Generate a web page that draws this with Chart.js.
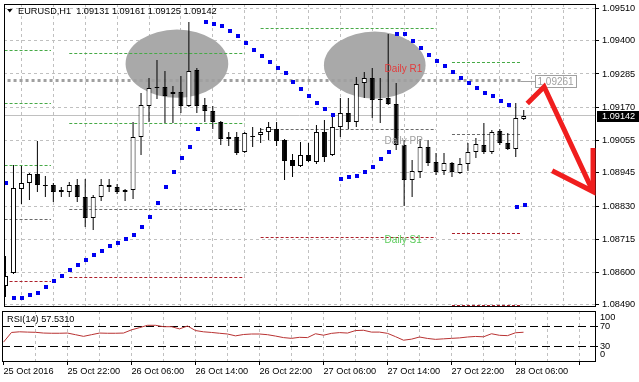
<!DOCTYPE html>
<html><head><meta charset="utf-8">
<script src="https://cdn.jsdelivr.net/npm/chart.js@4.4.0/dist/chart.umd.min.js"></script>
<style>
html,body{margin:0;padding:0;background:#fff;}
#wrap{position:relative;width:639px;height:382px;overflow:hidden;background:#fff;}
#main{position:absolute;left:0;top:0;}
#rsi{position:absolute;left:0;top:309px;}
</style></head><body>
<div id="wrap"><canvas id="main" width="639" height="310"></canvas><canvas id="rsi" width="639" height="73"></canvas></div>
<script>
// ---------------- DATA ----------------
const symbol = 'EURUSD,H1';
const timeLabels = ['25 Oct 2016','25 Oct 22:00','26 Oct 06:00','26 Oct 14:00','26 Oct 22:00','27 Oct 06:00','27 Oct 14:00','27 Oct 22:00','28 Oct 06:00'];
const labelStep = 8; // one time label every 8 hourly bars
const open = [1.08554,1.08598,1.08890,1.08911,1.08941,1.08901,1.08901,1.08877,1.08880,1.08901,
1.08863,1.08788,1.08863,1.08901,1.08897,1.08877,1.08884,1.09067,1.09176,1.09241,
1.09241,1.09217,1.09224,1.09176,1.09298,1.09179,1.09156,1.09118,1.09060,1.09067,
1.09016,1.09071,1.09074,1.09084,1.09094,1.09057,1.08989,1.08969,1.09006,1.08982,
1.09084,1.09006,1.09101,1.09149,1.09118,1.09254,1.09271,1.09200,1.09203,1.09183,
1.09040,1.08921,1.08948,1.09033,1.08982,1.08952,1.08979,1.08945,1.08975,1.09016,
1.09040,1.09016,1.09088,1.09047,1.09026,1.09131];
const high = [1.08659,1.08972,1.08969,1.08945,1.09054,1.08935,1.08911,1.08897,1.08914,1.08924,
1.08924,1.08867,1.08924,1.08924,1.08907,1.08890,1.09118,1.09220,1.09271,1.09332,
1.09295,1.09244,1.09278,1.09465,1.09305,1.09203,1.09176,1.09122,1.09084,1.09084,
1.09084,1.09101,1.09098,1.09118,1.09118,1.09060,1.09009,1.09050,1.09047,1.09111,
1.09125,1.09145,1.09203,1.09203,1.09275,1.09292,1.09305,1.09271,1.09424,1.09254,
1.09057,1.08989,1.09060,1.09057,1.09013,1.09013,1.08982,1.08996,1.09047,1.09064,
1.09115,1.09091,1.09094,1.09081,1.09186,1.09161];
const low = [1.08516,1.08595,1.08836,1.08850,1.08880,1.08860,1.08843,1.08863,1.08863,1.08843,
1.08758,1.08748,1.08846,1.08880,1.08873,1.08846,1.08853,1.09006,1.09118,1.09200,
1.09115,1.09115,1.09149,1.09173,1.09149,1.09118,1.09094,1.09040,1.09037,1.09006,
1.09013,1.09033,1.09047,1.09057,1.09037,1.08921,1.08931,1.08965,1.08982,1.08975,
1.08982,1.09003,1.09067,1.09094,1.09101,1.09203,1.09135,1.09115,1.09179,1.09023,
1.08829,1.08863,1.08928,1.08969,1.08938,1.08938,1.08931,1.08941,1.08952,1.08996,
1.09009,1.09009,1.09040,1.09023,1.08999,1.09125];
const close = [1.08591,1.08894,1.08911,1.08941,1.08901,1.08898,1.08877,1.08884,1.08904,1.08863,
1.08788,1.08863,1.08901,1.08897,1.08877,1.08884,1.09067,1.09179,1.09237,1.09238,
1.09210,1.09224,1.09176,1.09295,1.09176,1.09156,1.09118,1.09060,1.09067,1.09013,
1.09081,1.09068,1.09084,1.09101,1.09054,1.08986,1.08969,1.09006,1.08986,1.09084,
1.08999,1.09101,1.09149,1.09118,1.09251,1.09271,1.09196,1.09197,1.09183,1.09040,
1.08921,1.08952,1.09033,1.08979,1.08948,1.08979,1.08948,1.08975,1.09016,1.09043,
1.09016,1.09084,1.09047,1.09026,1.09135,1.09142];
const sar = [1.08911,1.08515,1.08515,1.08524,1.08531,1.08551,1.08572,1.08591,1.08609,1.08626,
1.08643,1.08660,1.08677,1.08691,1.08704,1.08718,1.08732,1.08759,1.08793,1.08840,
1.08897,1.08949,1.08997,1.09034,1.09095,1.09463,1.09456,1.09449,1.09432,1.09415,
1.09391,1.09367,1.09347,1.09327,1.09306,1.09289,1.09259,1.09233,1.09208,1.09185,
1.09165,1.09143,1.08923,1.08929,1.08932,1.08947,1.08966,1.08993,1.09017,1.09423,
1.09423,1.09399,1.09374,1.09352,1.09331,1.09311,1.09293,1.09272,1.09255,1.09238,
1.09221,1.09208,1.09193,1.09178,1.08828,1.08834];
const rsi = [37.7,57.1,58.4,57.8,57.4,55.9,55.5,55.5,55.9,52.6,
49.3,52.6,55.9,55.5,55.5,55.9,62.3,66.7,71.4,71.4,
68.6,68.6,64.2,70.0,60.9,58.4,57.1,55.5,54.0,50.3,
53.0,54.0,54.0,52.6,49.9,46.8,45.3,47.4,46.8,54.5,
51.6,55.3,56.8,55.9,60.9,61.5,57.8,57.8,55.3,48.7,
41.6,43.7,48.0,45.1,43.3,44.3,45.3,46.2,48.0,49.1,
48.4,54.5,51.4,50.7,56.5,57.531];
const rsiPeriod = 14;
const priceTicks = [1.08490,1.08600,1.08715,1.08830,1.08945,1.09055,1.09170,1.09285,1.09400,1.09510];
const rsiTicks = [0,30,70,100];
const rsiLevels = [70,30];
// daily pivot segments (bar index spans) and levels
const dayFrom = [-2, 8, 32, 56];
const dayTo = [5.7, 30, 54, 64.6];
const pivotHigh = [[1.09365,1.09182,1.08969],[1.09354,1.09116],[1.09440],[1.09325]];
const pivotMid = [1.08783,1.08818,1.09093,1.09076];
const pivotLow = [[1.08570],[1.08583],[1.08722],[1.08734,1.08488]];
const pivotLabels = ['Daily R1','Daily PP','Daily S1'];
const pivotLabelAt = 47.55;
// horizontal line object
const hlinePrice = 1.09261;
const hlineFrom = -2, hlineTo = 64.6, hlineLabelAt = 66.4;
// ellipse objects (bar index span, price span)
const ellipses = [
  {from:15.06, to:27.94, top:1.09438, bottom:1.09203},
  {from:39.94, to:52.69, top:1.09431, bottom:1.09200}
];
// red arrow (bar index, price)
const arrowPath = [[65.44,1.09183],[67.56,1.09241],[73.69,1.08880]];
const arrowHead = [[68.56,1.08952],[73.69,1.08880],[73.69,1.09030]];

// ---------------- RENDER ----------------
const FONT = '"Liberation Sans", Arial, sans-serif';
Chart.defaults.font.family = FONT;
Chart.defaults.font.size = 9.2;
Chart.defaults.color = '#000';
Chart.defaults.animation = false;

const last = close.length - 1;
const bidPrice = close[last];
const xMin = -0.1875, xMax = 73.9375;
const gridIdx = [];
for (let v = 0; v <= 72; v += 4) gridIdx.push(v);
const GRID = '#c0c0c0';
const SAR_DX = 0.12;

function xScale(withLabels) {
  return {
    type: 'linear', min: xMin, max: xMax, offset: false,
    afterBuildTicks: s => { s.ticks = gridIdx.map(v => ({value: v})); },
    ticks: {
      display: withLabels, autoSkip: false, maxRotation: 0, minRotation: 0,
      align: 'start', padding: 1, font: {size: 9.2},
      callback: v => (v % labelStep === 0 && timeLabels[v / labelStep]) ? timeLabels[v / labelStep] : ''
    },
    grid: {
      color: c => (c.tick && c.tick.value === 0) ? 'rgba(0,0,0,0)' : GRID,
      lineWidth: 1,
      drawTicks: withLabels, tickLength: 4, tickBorderDash: [],
      tickColor: c => (c.tick && c.tick.value % labelStep === 0) ? '#000' : 'rgba(0,0,0,0)'
    },
    border: {display: false, dash: [3, 3]},
    afterFit: s => { s.height = withLabels ? 21 : 0; s.paddingLeft = 0; s.paddingRight = 0; }
  };
}

function hLine(x1, x2, v, color, dash, width, order) {
  return {type: 'line', snap: true, data: [{x: x1, y: v}, {x: x2, y: v}], borderColor: color, borderWidth: width,
    borderDash: dash, pointRadius: 0, fill: false, tension: 0, order: order};
}

// crisp rendering: round element geometry computed by the scales to device pixels
const crisp = {
  id: 'crisp',
  afterDatasetsUpdate(chart) {
    chart.data.datasets.forEach((ds, di) => {
      const meta = chart.getDatasetMeta(di);
      if (meta.type === 'bar') {
        meta.data.forEach(el => {
          el.y = Math.round(el.y); el.base = Math.round(el.base);
          if (el.y === el.base) el.base = el.y + 1;
        });
      } else if (ds.snap) {
        meta.data.forEach(el => { el.y = Math.round(el.y - 0.5) + 0.5; });
      } else if (ds.snapPoints) {
        meta.data.forEach(el => { el.y = Math.round(el.y); el.x = Math.round(el.x); });
      }
    });
  }
};

const datasets = [];
datasets.push({
  type: 'line', label: 'SAR', showLine: false, order: 1, snapPoints: true,
  data: sar.map((v, i) => ({x: i + SAR_DX, y: v})),
  pointStyle: 'rect', pointRadius: 2.8285, pointBackgroundColor: '#0000f0', pointBorderWidth: 0
});
datasets.push({
  type: 'bar', label: 'body', order: 2, grouped: false, barThickness: 5, inflateAmount: 0,
  data: open.map((o, i) => ({x: i, y: [o, close[i]]})),
  backgroundColor: c => close[c.dataIndex] >= open[c.dataIndex] ? '#ffffff' : '#000000',
  borderColor: '#000', borderWidth: 1, borderSkipped: false
});
datasets.push({
  type: 'bar', label: 'wick', order: 3, grouped: false, barThickness: 1, inflateAmount: 0,
  data: low.map((l, i) => ({x: i, y: [l, high[i]]})),
  backgroundColor: '#000', borderWidth: 0
});
datasets.push(hLine(xMin, xMax, bidPrice, '#c0c0c0', [], 1, 4));
dayFrom.forEach((f, d) => {
  pivotHigh[d].forEach(v => datasets.push(hLine(f, dayTo[d], v, '#46aa46', [3, 2], 1, 6)));
  datasets.push(hLine(f, dayTo[d], pivotMid[d], '#6a6a6a', [3, 2], 1, 6));
  pivotLow[d].forEach(v => datasets.push(hLine(f, dayTo[d], v, '#ad1f2a', [3, 2], 1, 6)));
});
datasets.push(hLine(hlineFrom, hlineTo, hlinePrice, '#a0a0a0', [3, 3], 3, 8));

const mainDeco = {
  id: 'mainDeco',
  beforeDatasetsDraw(chart) {
    const {ctx, chartArea: a, scales: {x, y}} = chart;
    ctx.save();
    ctx.beginPath(); ctx.rect(a.left, a.top, a.right - a.left, a.bottom - a.top); ctx.clip();
    ctx.fillStyle = '#a9a9a9';
    for (const e of ellipses) {
      const x1 = x.getPixelForValue(e.from), x2 = x.getPixelForValue(e.to);
      const y1 = y.getPixelForValue(e.top), y2 = y.getPixelForValue(e.bottom);
      ctx.beginPath();
      ctx.ellipse((x1 + x2) / 2, (y1 + y2) / 2, (x2 - x1) / 2, (y2 - y1) / 2, 0, 0, 2 * Math.PI);
      ctx.fill();
    }
    ctx.restore();
  },
  afterDatasetsDraw(chart) {
    const {ctx, scales: {x, y}} = chart;
    ctx.save();
    ctx.font = '10px ' + FONT;
    ctx.textBaseline = 'middle'; ctx.textAlign = 'left';
    const lx = x.getPixelForValue(pivotLabelAt);
    const items = [[pivotLabels[0], pivotHigh[3][0], '#e23c3c'], [pivotLabels[1], pivotMid[3], '#a0a0a0'], [pivotLabels[2], pivotLow[3][0], '#5ccc5c']];
    for (const [t, v, c] of items) { ctx.fillStyle = c; ctx.fillText(t, lx, y.getPixelForValue(v) + 6.5); }
    ctx.restore();
  },
  afterDraw(chart) {
    const {ctx, chartArea: a, scales: {x, y}} = chart;
    ctx.save();
    // frame
    ctx.strokeStyle = '#000'; ctx.lineWidth = 1;
    ctx.strokeRect(a.left + 0.5, a.top + 0.5, a.right - a.left, a.bottom - a.top);
    // hline label
    const hy = Math.round(y.getPixelForValue(hlinePrice));
    const hx0 = x.getPixelForValue(hlineTo), hx1 = Math.round(x.getPixelForValue(hlineLabelAt));
    ctx.strokeStyle = '#a0a0a0';
    ctx.beginPath(); ctx.moveTo(hx0, hy + 0.5); ctx.lineTo(hx1, hy + 0.5); ctx.stroke();
    ctx.font = '10px ' + FONT;
    const hw = Math.ceil(ctx.measureText(hlinePrice.toFixed(5)).width) + 4;
    ctx.strokeRect(hx1 + 0.5, hy - 6 + 0.5, hw, 12);
    ctx.fillStyle = '#a0a0a0'; ctx.textBaseline = 'middle'; ctx.textAlign = 'left';
    ctx.fillText(hlinePrice.toFixed(5), hx1 + 2.5, hy + 1);
    // bid box on axis
    const by = Math.round(y.getPixelForValue(bidPrice));
    ctx.fillStyle = '#000';
    ctx.fillRect(a.right + 2, by - 5, 44, 11);
    ctx.fillStyle = '#fff'; ctx.font = '9.2px ' + FONT;
    ctx.fillText(bidPrice.toFixed(5), a.right + 7, by + 0.5);
    // arrow
    ctx.strokeStyle = '#f01e1e'; ctx.lineWidth = 5; ctx.lineJoin = 'miter'; ctx.lineCap = 'butt';
    const P = p => [x.getPixelForValue(p[0]), y.getPixelForValue(p[1])];
    for (const path of [arrowPath, arrowHead]) {
      ctx.beginPath();
      path.forEach((p, i) => { const [px, py] = P(p); i ? ctx.lineTo(px, py) : ctx.moveTo(px, py); });
      ctx.stroke();
    }
    // title
    ctx.fillStyle = '#000';
    ctx.beginPath(); ctx.moveTo(7, 9); ctx.lineTo(12.5, 9); ctx.lineTo(9.75, 12.5); ctx.closePath(); ctx.fill();
    ctx.font = '9.2px ' + FONT; ctx.textBaseline = 'alphabetic';
    ctx.fillText(symbol + '  ' + [open[last], high[last], low[last], close[last]].map(v => v.toFixed(5)).join(' '), 18, 14);
    ctx.restore();
  }
};

new Chart(document.getElementById('main'), {
  type: 'bar',
  data: {datasets},
  options: {
    responsive: false, animation: false, events: [],
    layout: {padding: {left: 2, top: 2, right: 0, bottom: 2}},
    plugins: {legend: {display: false}, tooltip: {enabled: false}},
    scales: {
      x: xScale(false),
      y: {
        type: 'linear', position: 'right', min: 1.08486, max: 1.09526,
        afterBuildTicks: s => { s.ticks = priceTicks.map(v => ({value: v})); },
        ticks: {autoSkip: false, padding: 3, callback: v => Number(v).toFixed(5), font: {size: 9.2}},
        grid: {color: GRID, lineWidth: 1, tickColor: '#000', tickLength: 4, tickBorderDash: []},
        border: {display: false, dash: [3, 3]},
        afterFit: s => { s.width = 44; s.paddingTop = 0; s.paddingBottom = 0; }
      }
    }
  },
  plugins: [crisp, mainDeco]
});

// ---------------- RSI ----------------
const rsiDeco = {
  id: 'rsiDeco',
  afterDraw(chart) {
    const {ctx, chartArea: a} = chart;
    ctx.save();
    ctx.strokeStyle = '#000'; ctx.lineWidth = 1;
    ctx.strokeRect(a.left + 0.5, a.top + 0.5, a.right - a.left, a.bottom - a.top);
    ctx.fillStyle = '#000'; ctx.font = '9.2px ' + FONT; ctx.textBaseline = 'middle'; ctx.textAlign = 'left';
    ctx.fillText('RSI(' + rsiPeriod + ') ' + rsi[last].toFixed(4), 7, a.top + 8.5);
    ctx.restore();
  }
};
const rsiSets = [{
  type: 'line', data: rsi.map((v, i) => ({x: i, y: v})), borderColor: '#b83232', borderWidth: 1,
  pointRadius: 0, fill: false, tension: 0, order: 1
}];
rsiLevels.forEach(l => rsiSets.push(hLine(xMin, xMax, l, '#000', [8, 4], 1, 2)));

new Chart(document.getElementById('rsi'), {
  type: 'line',
  data: {datasets: rsiSets},
  options: {
    responsive: false, animation: false, events: [],
    layout: {padding: {left: 2, top: 2, right: 0, bottom: 0}},
    plugins: {legend: {display: false}, tooltip: {enabled: false}},
    scales: {
      x: xScale(true),
      y: {
        type: 'linear', position: 'right', min: 0, max: 100,
        afterBuildTicks: s => { s.ticks = rsiTicks.map(v => ({value: v})); },
        ticks: {autoSkip: false, padding: 2, font: {size: 9.2, lineHeight: 1.42},
          callback: v => v === 100 ? ['', '100'] : (v === 0 ? ['0', ''] : String(v))},
        grid: {drawOnChartArea: false, tickLength: 3, tickColor: c => (c.tick && (c.tick.value === 30 || c.tick.value === 70)) ? '#000' : 'rgba(0,0,0,0)'},
        border: {display: false},
        afterFit: s => { s.width = 44; s.paddingTop = 0; s.paddingBottom = 0; }
      }
    }
  },
  plugins: [crisp, rsiDeco]
});
</script>
</body></html>
